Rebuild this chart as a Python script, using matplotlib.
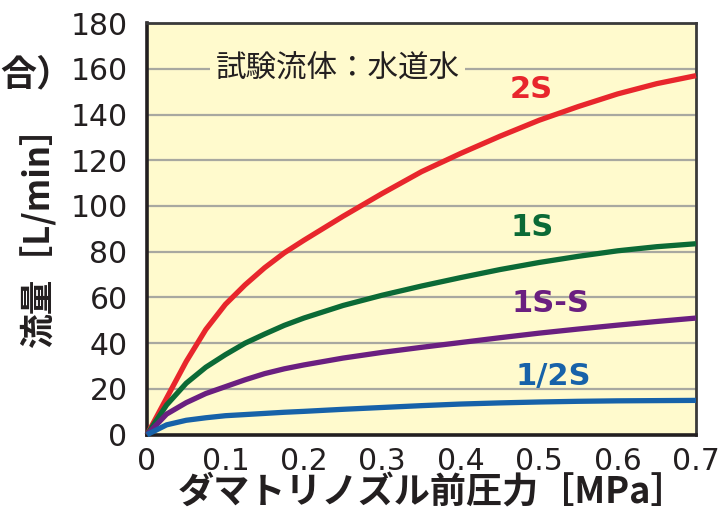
import matplotlib
matplotlib.use("Agg")
import matplotlib.pyplot as plt

plt.rcParams['font.family'] = ['Noto Sans CJK JP', 'DejaVu Sans']

# pressure [MPa] and flow [L/min]
pressure = [0, 0.025, 0.05, 0.075, 0.1, 0.125, 0.15, 0.175, 0.2, 0.25, 0.3,
            0.35, 0.4, 0.45, 0.5, 0.55, 0.6, 0.65, 0.7]
flow_2s = [0, 16, 32, 46, 57, 65.5, 73, 79.5, 85, 95.5, 105.5,
           115, 123, 130.5, 137.5, 143.5, 149, 153.5, 157]
flow_1s = [0, 13, 22.5, 29.5, 35, 40, 44, 47.8, 51, 56.5, 61,
           65, 68.7, 72.2, 75.3, 78, 80.4, 82.2, 83.5]
flow_1s_s = [0, 9, 14, 18, 21, 24, 26.7, 28.8, 30.5, 33.5, 36,
             38.2, 40.3, 42.4, 44.4, 46.2, 47.9, 49.5, 51]
flow_half_s = [0, 4.3, 6.3, 7.4, 8.3, 8.8, 9.3, 9.8, 10.2, 11.1, 11.9,
               12.7, 13.4, 13.9, 14.3, 14.6, 14.8, 14.9, 15]

series = [
    ("2S", flow_2s, "#e8262c", (0.490, 151)),
    ("1S", flow_1s, "#0b6a36", (0.491, 90.5)),
    ("1S-S", flow_1s_s, "#6a1f80", (0.515, 57.5)),
    ("1/2S", flow_half_s, "#1762a9", (0.518, 25.5)),
]

x_ticks = [0, 0.1, 0.2, 0.3, 0.4, 0.5, 0.6, 0.7]
x_tick_labels = ["0", "0.1", "0.2", "0.3", "0.4", "0.5", "0.6", "0.7"]
y_ticks = list(range(0, 181, 20))

bg = "#fffacd"
text_color = "#231f20"

fig = plt.figure(figsize=(7.22, 5.12), dpi=100)
ax = fig.add_axes([0.2036, 0.151, 0.7604, 0.804])
ax.set_facecolor(bg)

for y in y_ticks[1:]:
    ax.axhline(y, color="#a8a8a0", lw=1.6, zorder=1)

for name, values, color, (lx, ly) in series:
    ax.plot(pressure, values, color=color, lw=3.8, solid_capstyle="butt",
            solid_joinstyle="round", zorder=3, clip_on=False)
    ax.text(lx, ly, name, color=color, fontsize=22, fontweight="bold",
            family="DejaVu Sans", ha="center", va="center", zorder=4)

ax.text(0.2435, 160, "試験流体：水道水", fontsize=22, color=text_color,
        ha="center", va="center", zorder=2,
        bbox=dict(facecolor=bg, edgecolor="none", pad=4))

ax.set_xlim(0, 0.7)
ax.set_ylim(0, 180)
ax.set_xticks(x_ticks)
ax.set_xticklabels(x_tick_labels)
ax.set_yticks(y_ticks)
ax.tick_params(length=0, labelsize=21.5, labelcolor=text_color)
ax.tick_params(axis="y", pad=14)
ax.tick_params(axis="x", pad=9)
for lab in ax.get_xticklabels() + ax.get_yticklabels():
    lab.set_family("DejaVu Sans")

for side in ["left", "bottom"]:
    ax.spines[side].set_linewidth(2.6)
    ax.spines[side].set_color("#231f20")
for side in ["top", "right"]:
    ax.spines[side].set_linewidth(2.0)
    ax.spines[side].set_color("#3a3a3a")

ax.set_xlabel("ダマトリノズル前圧力［MPa］", fontsize=26, fontweight="bold",
              color=text_color, labelpad=-1, x=0.52, ha="center")
ax.set_ylabel("流量［L/min］", fontsize=25, fontweight="bold",
              color=text_color, labelpad=10)

fig.text(0.0, 0.853, "合）", fontsize=26, fontweight="bold", color=text_color,
         ha="left", va="center")

fig.savefig("out.png", dpi=100, facecolor="white")
